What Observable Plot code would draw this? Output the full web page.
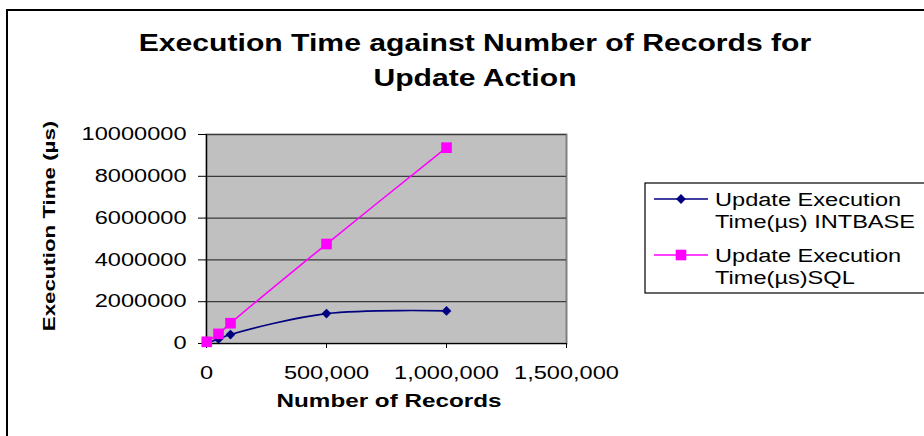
<!DOCTYPE html>
<html>
<head>
<meta charset="utf-8">
<script src="https://cdn.jsdelivr.net/npm/d3@7"></script>
<script src="https://cdn.jsdelivr.net/npm/@observablehq/plot@0.6"></script>
<style>
  html, body { margin: 0; padding: 0; background: #fff; }
  #wrap { position: relative; width: 924px; height: 436px; overflow: hidden; font-family: "Liberation Sans", Arial, sans-serif; }
  #wrap svg { position: absolute; left: 0; top: 0; }
</style>
</head>
<body>
<div id="wrap"></div>
<script>
// ---- data ----
const records = [1000, 50000, 100000, 500000, 1000000];
const intbase = [30000, 220000, 430000, 1430000, 1560000];
const sqlTimes = [80000, 460000, 970000, 4760000, 9370000];
const seriesNames = ["Update Execution\nTime(µs) INTBASE", "Update Execution\nTime(µs)SQL"];
const seriesColors = ["#000080", "#FF00FF"];
const seriesSymbols = ["diamond2", "square"];
const yTicks = [0, 2000000, 4000000, 6000000, 8000000, 10000000];
const xTicks = [0, 500000, 1000000, 1500000];
const titleLines = ["Execution Time against Number of Records for", "Update Action"];
const xTitle = "Number of Records";
const yTitle = "Execution Time (µs)";

const rows = [];
records.forEach((r, i) => {
  rows.push({rec: r, t: intbase[i], s: seriesNames[0]});
});
records.forEach((r, i) => {
  rows.push({rec: r, t: sqlTimes[i], s: seriesNames[1]});
});
const intRows = rows.filter(d => d.s === seriesNames[0]);
const sqlRows = rows.filter(d => d.s === seriesNames[1]);

const FONT = '"Liberation Sans", Arial, sans-serif';
const K = 1.31; // horizontal stretch of the text as seen in the reference

const chart = Plot.plot({
  width: 924,
  height: 436,
  marginLeft: 206,
  marginRight: 358,
  marginTop: 134,
  marginBottom: 93,
  style: {fontFamily: FONT, background: "transparent", overflow: "visible"},
  x: {domain: [0, 1500000]},
  y: {domain: [0, 10000000]},
  marks: [
    Plot.frame({fill: "#C0C0C0", stroke: "#808080", strokeWidth: 2}),
    Plot.gridY(yTicks.filter(d => d > 0), {stroke: "#3a3a3a", strokeOpacity: 1, strokeWidth: 1.2}),
    Plot.axisY(yTicks, {tickSize: 8, tickPadding: 12, fontSize: 18, tickFormat: d3.format("d"), label: null, stroke: "#000", fill: "#000"}),
    Plot.axisX(xTicks, {tickSize: 5, tickPadding: 18, fontSize: 18, tickFormat: d3.format(","), label: null, stroke: "#000", fill: "#000"}),
    Plot.ruleY([0], {stroke: "#000", strokeWidth: 1.2}),
    Plot.ruleX([0], {stroke: "#000", strokeWidth: 1.2}),
    Plot.line(intRows, {x: "rec", y: "t", stroke: seriesColors[0], strokeWidth: 1.6, curve: "catmull-rom"}),
    Plot.line(sqlRows, {x: "rec", y: "t", stroke: seriesColors[1], strokeWidth: 1.6, curve: "catmull-rom"}),
    Plot.dot(intRows, {x: "rec", y: "t", symbol: () => seriesSymbols[0], fill: seriesColors[0], stroke: "none", r: 4.4}),
    Plot.dot(sqlRows, {x: "rec", y: "t", symbol: () => seriesSymbols[1], fill: seriesColors[1], stroke: "none", r: 6})
  ]
});

const wrap = document.getElementById("wrap");
wrap.appendChild(chart);

// ---- overlay: border, titles, legend ----
const ov = d3.select(wrap).append("svg")
  .attr("width", 924).attr("height", 436)
  .style("font-family", FONT);

ov.append("rect").attr("x", 7).attr("y", 10).attr("width", 940).attr("height", 460)
  .attr("fill", "none").attr("stroke", "#000").attr("stroke-width", 2);

const title = ov.append("text").attr("text-anchor", "middle").attr("font-weight", "bold").attr("font-size", 23).attr("fill", "#000");
titleLines.forEach((l, i) => {
  title.append("tspan").attr("x", 475).attr("y", 51 + i * 34.5).text(l);
});

ov.append("text").attr("x", 389).attr("y", 407).attr("text-anchor", "middle")
  .attr("font-weight", "bold").attr("font-size", 18.5).attr("fill", "#000").text(xTitle);

ov.append("text").attr("transform", "translate(55,226) rotate(-90)").attr("text-anchor", "middle")
  .attr("font-weight", "bold").attr("font-size", 17).attr("fill", "#000").text(yTitle);

// legend
const lg = ov.append("g");
lg.append("rect").attr("x", 645).attr("y", 183).attr("width", 320).attr("height", 110)
  .attr("fill", "#fff").attr("stroke", "#000").attr("stroke-width", 1.2);
const lineYs = [199, 255];
const textYs = [[206, 228], [262, 284]];
seriesNames.forEach((name, i) => {
  lg.append("line").attr("x1", 654).attr("x2", 708).attr("y1", lineYs[i]).attr("y2", lineYs[i])
    .attr("stroke", seriesColors[i]).attr("stroke-width", 1.6);
  const sym = i === 0 ? d3.symbolDiamond2 : d3.symbolSquare;
  const size = i === 0 ? Math.PI * 4.4 * 4.4 : Math.PI * 6 * 6;
  lg.append("path").attr("d", d3.symbol(sym, size)()).attr("transform", `translate(681,${lineYs[i]})`)
    .attr("fill", seriesColors[i]);
  const t = lg.append("text").attr("font-size", 18).attr("fill", "#000");
  name.split("\n").forEach((part, j) => {
    t.append("tspan").attr("x", 715).attr("y", textYs[i][j]).text(part);
  });
});

// apply the horizontal stretch to every text run
function stretch(root) {
  root.querySelectorAll("text").forEach(t => {
    const spans = t.querySelectorAll("tspan");
    const targets = spans.length ? Array.from(spans) : [t];
    targets.forEach(el => {
      const w = el.getComputedTextLength();
      if (w > 0) {
        el.setAttribute("textLength", (w * K).toFixed(2));
        el.setAttribute("lengthAdjust", "spacingAndGlyphs");
      }
    });
  });
}
stretch(chart);
stretch(ov.node());
</script>
</body>
</html>
